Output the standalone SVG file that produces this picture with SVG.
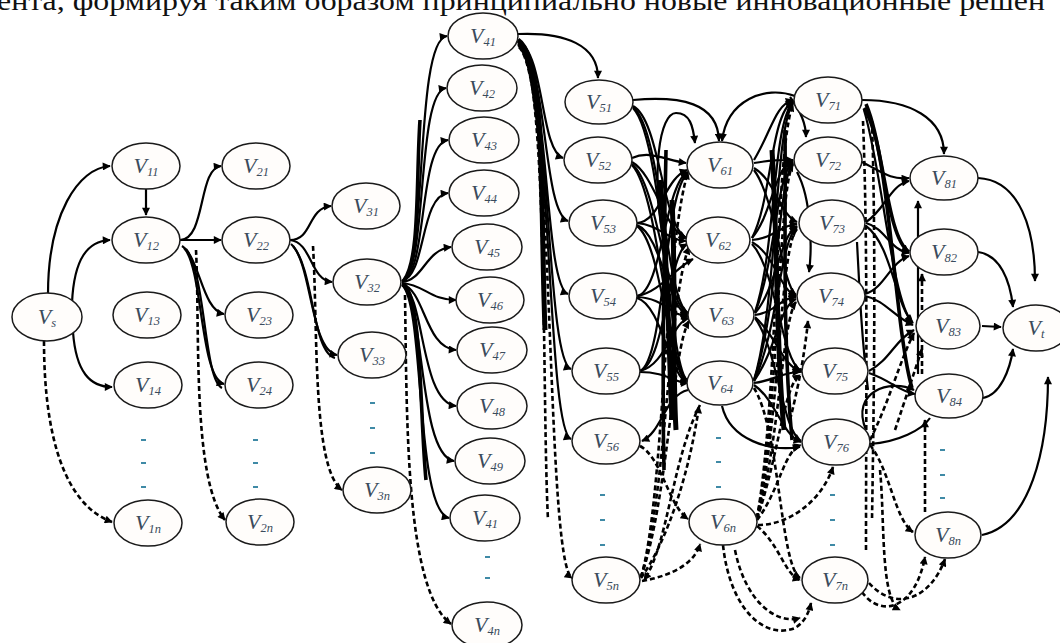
<svg xmlns="http://www.w3.org/2000/svg" width="1060" height="643" viewBox="0 0 1060 643">
<style>
.bg{fill:#ffffff}
.hd{font-family:"Liberation Serif","Times New Roman",serif;font-size:27px;fill:#111}
.n ellipse{fill:#fffdfb;stroke:#1a1a1a;stroke-width:1.5}
.lb{font-family:"Liberation Serif","Times New Roman",serif;font-style:italic;font-size:22px;fill:#3a4b5c;text-anchor:middle}
.sb{font-size:12.5px}
.c path{fill:none;stroke:#000;stroke-width:2.2;marker-end:url(#a)}
.c path.d{stroke-dasharray:5 3;stroke-width:2.6}
.c path.t{stroke-width:3.6}
.c path.tt{stroke-width:5}
.c path.nm{marker-end:none}
.dot{fill:#3f8aa6}
</style>
<defs>
<marker id="a" viewBox="0 0 10 10" refX="9" refY="5" markerWidth="10" markerHeight="8" markerUnits="userSpaceOnUse" orient="auto"><path d="M0,0 L10,5 L0,10 z" fill="#000"/></marker>
</defs>
<rect class="bg" x="0" y="0" width="1060" height="643"/>
<text class="hd" x="-3" y="10" textLength="1048" lengthAdjust="spacingAndGlyphs">ента, формируя таким образом принципиально новые инновационные решен</text>

<g id="connectors" class="c">
<!-- Vs -->
<path d="M48,294 C48,215 78,168 110,166"/>
<path d="M72,303 C74,258 88,241 110,240"/>
<path d="M73,332 C76,372 90,387 112,387"/>
<path class="d" d="M44,341 C44,440 66,505 112,522"/>
<path d="M146,189 L146,215"/>
<!-- V12 -->
<path d="M180,240 C206,240 198,168 221,166"/>
<path d="M180,240 L221,240"/>
<path d="M182,246 C200,258 202,310 224,314"/>
<path d="M184,248 C203,268 200,378 224,384"/>
<path class="nm" d="M186,249 C206,275 204,380 222,388"/>
<path class="d" d="M196,250 C200,330 192,480 225,520"/>
<!-- V22 -->
<path d="M290,240 C313,240 307,208 331,206"/>
<path d="M290,240 C312,242 310,280 332,282"/>
<path d="M291,244 C312,262 310,350 337,355"/>
<path class="nm" d="M293,246 C314,270 312,352 335,358"/>
<path class="d" d="M313,246 C318,330 312,468 342,490"/>
<!-- V32 -->
<path d="M402,281 C428,270 414,40 447,36"/>
<path d="M402,281 C428,272 416,92 446,88"/>
<path d="M402,281 C428,274 418,144 448,140"/>
<path d="M402,281 C426,276 420,196 448,193"/>
<path d="M402,282 C424,280 425,250 451,247"/>
<path d="M402,283 C425,285 430,300 456,300"/>
<path d="M402,284 C425,290 425,348 456,350"/>
<path d="M402,284 C425,295 420,402 456,406"/>
<path d="M402,285 C425,300 418,455 454,461"/>
<path d="M402,285 C425,305 415,510 449,518"/>
<path class="nm t" d="M404,284 C422,300 420,420 426,480"/>
<path class="nm t" d="M404,280 C420,260 416,180 420,120"/>
<path class="d" d="M405,295 C407,420 405,590 451,624"/>
<!-- V41 -->
<path d="M518,34 C565,32 598,45 598,78"/>
<path d="M518,40 C545,55 540,150 563,158"/>
<path d="M518,42 C548,60 542,212 568,221"/>
<path d="M518,43 C550,65 543,285 568,294"/>
<path d="M518,44 C552,70 545,360 571,369"/>
<path d="M518,45 C553,75 546,430 571,439"/>
<path class="nm tt" d="M518,40 C546,58 540,200 545,330"/>
<path class="d" d="M519,47 C556,85 545,560 572,578"/>
<path class="d nm" d="M522,50 C548,90 542,400 548,520"/>
<!-- V5x -> V6x -->
<path d="M633,100 C680,96 718,102 719,141"/>
<path d="M633,106 C660,120 662,225 686,238"/>
<path d="M633,107 C662,130 665,300 688,313"/>
<path d="M633,108 C664,140 668,370 688,381"/>
<path d="M665,250 C650,170 660,113 676,113 C690,113 693,126 695,143"/>
<path d="M632,158 C650,150 665,160 686,163"/>
<path d="M632,162 C655,175 665,232 687,238"/>
<path d="M632,164 C658,185 665,305 688,313"/>
<path d="M632,165 C660,195 668,372 688,381"/>
<path d="M637,223 C660,222 665,178 687,170"/>
<path d="M637,223 C660,225 667,240 686,241"/>
<path d="M637,225 C662,235 668,310 688,315"/>
<path d="M637,226 C663,245 668,375 688,382"/>
<path d="M637,296 C662,292 665,182 688,172"/>
<path d="M637,296 C660,292 675,268 693,259"/>
<path d="M637,297 C665,298 670,316 688,316"/>
<path d="M637,298 C662,305 670,378 688,383"/>
<path d="M640,371 C665,360 664,190 688,173"/>
<path d="M640,371 C665,362 668,255 687,244"/>
<path d="M640,371 C666,365 672,322 689,318"/>
<path d="M640,372 C666,372 675,383 688,383"/>
<path class="tt nm" d="M660,180 C668,260 668,330 672,420"/>
<path class="tt nm" d="M672,200 C676,280 672,360 676,430"/>
<path class="t nm" d="M666,150 C664,250 662,380 664,470"/>
<path d="M688,390 C665,395 662,432 642,441"/>
<path class="d" d="M640,446 C662,458 668,505 688,519"/>
<path class="d" d="M641,578 C668,540 690,470 699,406"/>
<path class="d" d="M642,581 C675,575 695,562 700,544"/>
<path class="d" d="M641,577 C664,500 664,250 688,172"/>
<path class="d" d="M641,577 C666,500 668,300 689,247"/>
<path class="d" d="M641,577 C668,500 672,350 689,321"/>
<path class="d" d="M700,405 C672,460 668,545 644,580"/>
<!-- V6x -> V7x -->
<path d="M754,160 C772,130 775,105 793,100"/>
<path d="M754,163 C772,160 778,160 793,160"/>
<path d="M754,168 C775,180 780,215 797,222"/>
<path d="M754,170 C776,200 782,285 796,295"/>
<path d="M752,238 C772,200 770,115 793,101"/>
<path d="M752,238 C772,215 775,165 793,161"/>
<path d="M752,240 C775,238 780,225 797,224"/>
<path d="M752,242 C775,255 780,290 796,296"/>
<path d="M752,244 C776,270 782,360 800,370"/>
<path d="M755,312 C776,250 772,125 793,102"/>
<path d="M755,313 C776,260 776,175 793,162"/>
<path d="M755,313 C776,290 780,235 797,226"/>
<path d="M755,315 C776,312 780,298 796,297"/>
<path d="M755,317 C776,335 782,365 800,371"/>
<path d="M755,318 C778,350 782,430 801,441"/>
<path d="M754,380 C778,300 774,130 793,103"/>
<path d="M754,380 C778,310 778,180 793,163"/>
<path d="M754,381 C778,330 780,240 797,227"/>
<path d="M754,381 C776,350 780,305 796,299"/>
<path d="M754,383 C776,380 782,372 800,372"/>
<path d="M754,385 C776,400 782,435 801,442"/>
<path class="tt nm" d="M772,150 C778,250 776,350 784,430"/>
<path class="t nm" d="M785,130 C786,220 782,330 792,440"/>
<path class="d" d="M754,388 C780,430 780,565 800,578"/>
<path d="M722,406 C730,440 770,452 800,447"/>
<path class="d" d="M757,518 C778,400 775,150 793,104"/>
<path class="d" d="M757,518 C779,410 778,190 793,164"/>
<path class="d" d="M757,518 C780,420 780,245 797,229"/>
<path class="d" d="M757,519 C780,440 782,320 796,302"/>
<path class="d" d="M757,519 C780,450 784,385 800,375"/>
<path class="d" d="M757,520 C780,490 784,450 801,445"/>
<path class="d" d="M757,526 C780,545 785,575 800,580"/>
<path class="d" d="M758,525 C790,525 822,500 833,467"/>
<path class="d" d="M723,545 C730,610 765,640 795,628 C805,622 809,612 811,603"/>
<path class="d" d="M735,550 C745,600 775,625 800,618"/>
<path d="M795,96 C765,85 727,100 722,141"/>
<path d="M790,97 C800,110 806,125 806,137"/>
<path d="M797,172 C812,200 812,250 809,272"/>
<path class="d" d="M790,420 C800,380 805,350 808,321"/>
<!-- V7x -> V8x -->
<path d="M862,100 C910,100 944,118 944,154"/>
<path class="t" d="M864,108 C885,140 885,235 909,252"/>
<path d="M864,110 C882,170 892,300 912,322"/>
<path d="M862,162 C882,172 890,180 909,178"/>
<path d="M866,222 C885,210 890,185 909,181"/>
<path d="M866,223 C885,228 890,250 909,253"/>
<path d="M866,226 C892,245 895,305 913,323"/>
<path d="M865,296 C885,300 895,318 913,325"/>
<path d="M865,294 C885,288 890,262 909,256"/>
<path d="M869,371 C890,360 895,340 914,330"/>
<path d="M869,373 C890,380 900,392 915,394"/>
<path class="t nm" d="M866,104 C890,160 895,330 912,388"/>
<path class="nm" d="M857,242 C860,300 862,340 868,390"/>
<path d="M866,430 C850,392 890,378 914,390"/>
<path class="nm" d="M870,444 C898,442 922,430 930,418"/>
<path class="d" d="M870,445 C890,470 895,520 913,532"/>
<path class="d" d="M870,440 C890,400 900,360 914,333"/>
<path class="d" d="M895,430 C905,400 915,370 922,349"/>
<path class="d nm" d="M863,121 C868,250 866,400 866,550"/>
<path class="d nm" d="M872,121 C876,250 874,400 872,520"/>
<path class="d" d="M869,583 C895,612 930,600 945,559"/>
<path class="d" d="M862,592 C880,618 915,610 925,557"/>
<path class="d" d="M880,470 C885,520 880,600 900,610"/>
<path d="M918,374 L918,201"/>
<path class="d" d="M922,374 L922,274"/>
<path class="d" d="M925,512 L925,420"/>
<!-- V8x -> Vt -->
<path d="M978,178 C1020,180 1035,230 1035,281"/>
<path d="M978,252 C1000,255 1010,280 1013,307"/>
<path d="M982,326 L1001,327"/>
<path d="M983,398 C1000,395 1010,370 1013,349"/>
<path d="M982,535 C1030,525 1048,450 1048,377"/>
</g>

<g id="dots" class="dot">
<rect x="141" y="439" width="5" height="2"/><rect x="141" y="462" width="5" height="2"/><rect x="141" y="486" width="5" height="2"/>
<rect x="253" y="439" width="5" height="2"/><rect x="253" y="462" width="5" height="2"/><rect x="253" y="486" width="5" height="2"/>
<rect x="370" y="402" width="5" height="2"/><rect x="370" y="427" width="5" height="2"/><rect x="370" y="452" width="5" height="2"/>
<rect x="485" y="556" width="5" height="2"/><rect x="485" y="577" width="5" height="2"/>
<rect x="600" y="494" width="5" height="2"/><rect x="600" y="519" width="5" height="2"/><rect x="600" y="544" width="5" height="2"/>
<rect x="716" y="437" width="5" height="2"/><rect x="716" y="461" width="5" height="2"/><rect x="716" y="486" width="5" height="2"/>
<rect x="830" y="494" width="5" height="2"/><rect x="830" y="519" width="5" height="2"/><rect x="830" y="544" width="5" height="2"/>
<rect x="940" y="449" width="5" height="2"/><rect x="940" y="474" width="5" height="2"/><rect x="940" y="497" width="5" height="2"/>
</g>

<g id="nodes" class="n">
<g id="Vs"><ellipse cx="47" cy="317" rx="35" ry="24"/><text class="lb" x="47" y="324">V<tspan class="sb" dy="3">s</tspan></text></g>
<g id="V11"><ellipse cx="146" cy="166" rx="34" ry="23"/><text class="lb" x="146" y="173">V<tspan class="sb" dy="3">11</tspan></text></g>
<g id="V12"><ellipse cx="146" cy="240" rx="34" ry="23"/><text class="lb" x="146" y="247">V<tspan class="sb" dy="3">12</tspan></text></g>
<g id="V13"><ellipse cx="147" cy="315" rx="34" ry="23"/><text class="lb" x="147" y="322">V<tspan class="sb" dy="3">13</tspan></text></g>
<g id="V14"><ellipse cx="148" cy="385" rx="34" ry="23"/><text class="lb" x="148" y="392">V<tspan class="sb" dy="3">14</tspan></text></g>
<g id="V1n"><ellipse cx="148" cy="523" rx="34" ry="23"/><text class="lb" x="148" y="530">V<tspan class="sb" dy="3">1n</tspan></text></g>
<g id="V21"><ellipse cx="256" cy="166" rx="34" ry="23"/><text class="lb" x="256" y="173">V<tspan class="sb" dy="3">21</tspan></text></g>
<g id="V22"><ellipse cx="256" cy="240" rx="34" ry="23"/><text class="lb" x="256" y="247">V<tspan class="sb" dy="3">22</tspan></text></g>
<g id="V23"><ellipse cx="259" cy="315" rx="34" ry="23"/><text class="lb" x="259" y="322">V<tspan class="sb" dy="3">23</tspan></text></g>
<g id="V24"><ellipse cx="259" cy="385" rx="34" ry="23"/><text class="lb" x="259" y="392">V<tspan class="sb" dy="3">24</tspan></text></g>
<g id="V2n"><ellipse cx="260" cy="522" rx="34" ry="23"/><text class="lb" x="260" y="529">V<tspan class="sb" dy="3">2n</tspan></text></g>
<g id="V31"><ellipse cx="366" cy="206" rx="34" ry="23"/><text class="lb" x="366" y="213">V<tspan class="sb" dy="3">31</tspan></text></g>
<g id="V32"><ellipse cx="367" cy="282" rx="34" ry="23"/><text class="lb" x="367" y="289">V<tspan class="sb" dy="3">32</tspan></text></g>
<g id="V33"><ellipse cx="372" cy="355" rx="34" ry="23"/><text class="lb" x="372" y="362">V<tspan class="sb" dy="3">33</tspan></text></g>
<g id="V3n"><ellipse cx="377" cy="490" rx="34" ry="23"/><text class="lb" x="377" y="497">V<tspan class="sb" dy="3">3n</tspan></text></g>
<g id="V41"><ellipse cx="483" cy="36" rx="35" ry="23"/><text class="lb" x="483" y="43">V<tspan class="sb" dy="3">41</tspan></text></g>
<g id="V42"><ellipse cx="482" cy="88" rx="35" ry="23"/><text class="lb" x="482" y="95">V<tspan class="sb" dy="3">42</tspan></text></g>
<g id="V43"><ellipse cx="484" cy="140" rx="35" ry="23"/><text class="lb" x="484" y="147">V<tspan class="sb" dy="3">43</tspan></text></g>
<g id="V44"><ellipse cx="484" cy="193" rx="35" ry="23"/><text class="lb" x="484" y="200">V<tspan class="sb" dy="3">44</tspan></text></g>
<g id="V45"><ellipse cx="487" cy="247" rx="35" ry="23"/><text class="lb" x="487" y="254">V<tspan class="sb" dy="3">45</tspan></text></g>
<g id="V46"><ellipse cx="490" cy="300" rx="34" ry="23"/><text class="lb" x="490" y="307">V<tspan class="sb" dy="3">46</tspan></text></g>
<g id="V47"><ellipse cx="492" cy="350" rx="35" ry="23"/><text class="lb" x="492" y="357">V<tspan class="sb" dy="3">47</tspan></text></g>
<g id="V48"><ellipse cx="492" cy="406" rx="35" ry="23"/><text class="lb" x="492" y="413">V<tspan class="sb" dy="3">48</tspan></text></g>
<g id="V49"><ellipse cx="490" cy="461" rx="35" ry="23"/><text class="lb" x="490" y="468">V<tspan class="sb" dy="3">49</tspan></text></g>
<g id="V410"><ellipse cx="485" cy="518" rx="35" ry="23"/><text class="lb" x="485" y="525">V<tspan class="sb" dy="3">41</tspan></text></g>
<g id="V4n"><ellipse cx="487" cy="625" rx="35" ry="23"/><text class="lb" x="487" y="632">V<tspan class="sb" dy="3">4n</tspan></text></g>
<g id="V51"><ellipse cx="599" cy="102" rx="34" ry="22"/><text class="lb" x="599" y="109">V<tspan class="sb" dy="3">51</tspan></text></g>
<g id="V52"><ellipse cx="598" cy="160" rx="34" ry="23"/><text class="lb" x="598" y="167">V<tspan class="sb" dy="3">52</tspan></text></g>
<g id="V53"><ellipse cx="603" cy="223" rx="34" ry="23"/><text class="lb" x="603" y="230">V<tspan class="sb" dy="3">53</tspan></text></g>
<g id="V54"><ellipse cx="603" cy="296" rx="34" ry="23"/><text class="lb" x="603" y="303">V<tspan class="sb" dy="3">54</tspan></text></g>
<g id="V55"><ellipse cx="606" cy="371" rx="34" ry="23"/><text class="lb" x="606" y="378">V<tspan class="sb" dy="3">55</tspan></text></g>
<g id="V56"><ellipse cx="606" cy="441" rx="34" ry="23"/><text class="lb" x="606" y="448">V<tspan class="sb" dy="3">56</tspan></text></g>
<g id="V5n"><ellipse cx="606" cy="580" rx="34" ry="23"/><text class="lb" x="606" y="587">V<tspan class="sb" dy="3">5n</tspan></text></g>
<g id="V61"><ellipse cx="720" cy="165" rx="33" ry="23"/><text class="lb" x="720" y="172">V<tspan class="sb" dy="3">61</tspan></text></g>
<g id="V62"><ellipse cx="718" cy="240" rx="32" ry="23"/><text class="lb" x="718" y="247">V<tspan class="sb" dy="3">62</tspan></text></g>
<g id="V63"><ellipse cx="721" cy="315" rx="33" ry="22"/><text class="lb" x="721" y="322">V<tspan class="sb" dy="3">63</tspan></text></g>
<g id="V64"><ellipse cx="720" cy="383" rx="33" ry="22"/><text class="lb" x="720" y="390">V<tspan class="sb" dy="3">64</tspan></text></g>
<g id="V6n"><ellipse cx="723" cy="522" rx="34" ry="23"/><text class="lb" x="723" y="529">V<tspan class="sb" dy="3">6n</tspan></text></g>
<g id="V71"><ellipse cx="828" cy="100" rx="34" ry="23"/><text class="lb" x="828" y="107">V<tspan class="sb" dy="3">71</tspan></text></g>
<g id="V72"><ellipse cx="828" cy="160" rx="34" ry="23"/><text class="lb" x="828" y="167">V<tspan class="sb" dy="3">72</tspan></text></g>
<g id="V73"><ellipse cx="832" cy="223" rx="33" ry="23"/><text class="lb" x="832" y="230">V<tspan class="sb" dy="3">73</tspan></text></g>
<g id="V74"><ellipse cx="831" cy="296" rx="34" ry="23"/><text class="lb" x="831" y="303">V<tspan class="sb" dy="3">74</tspan></text></g>
<g id="V75"><ellipse cx="835" cy="371" rx="33" ry="23"/><text class="lb" x="835" y="378">V<tspan class="sb" dy="3">75</tspan></text></g>
<g id="V76"><ellipse cx="836" cy="442" rx="34" ry="23"/><text class="lb" x="836" y="449">V<tspan class="sb" dy="3">76</tspan></text></g>
<g id="V7n"><ellipse cx="835" cy="580" rx="33" ry="23"/><text class="lb" x="835" y="587">V<tspan class="sb" dy="3">7n</tspan></text></g>
<g id="V81"><ellipse cx="944" cy="178" rx="34" ry="22"/><text class="lb" x="944" y="185">V<tspan class="sb" dy="3">81</tspan></text></g>
<g id="V82"><ellipse cx="944" cy="252" rx="34" ry="23"/><text class="lb" x="944" y="259">V<tspan class="sb" dy="3">82</tspan></text></g>
<g id="V83"><ellipse cx="948" cy="326" rx="32" ry="23"/><text class="lb" x="948" y="333">V<tspan class="sb" dy="3">83</tspan></text></g>
<g id="V84"><ellipse cx="949" cy="396" rx="34" ry="22"/><text class="lb" x="949" y="403">V<tspan class="sb" dy="3">84</tspan></text></g>
<g id="V8n"><ellipse cx="948" cy="535" rx="33" ry="23"/><text class="lb" x="948" y="542">V<tspan class="sb" dy="3">8n</tspan></text></g>
<g id="Vt"><ellipse cx="1036" cy="328" rx="33" ry="23"/><text class="lb" x="1036" y="335">V<tspan class="sb" dy="3">t</tspan></text></g>
</g>
</svg>
